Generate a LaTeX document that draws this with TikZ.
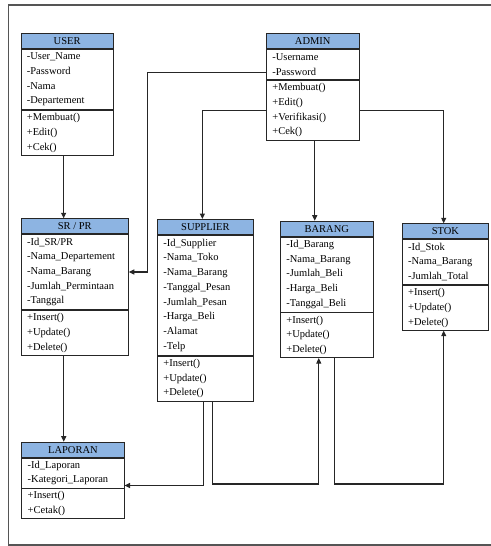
\documentclass[tikz,border=0pt]{standalone}
\usepackage{fontspec}
\setmainfont{Liberation Serif}
\usetikzlibrary{positioning,arrows.meta}
\definecolor{headblue}{RGB}{141,180,226}
\definecolor{frameline}{RGB}{85,85,85}

\begin{document}
\begin{tikzpicture}[x=1pt,y=-1pt,
    font=\fontsize{10.5}{14.7}\selectfont,
    classhead/.style={draw=black!85, line width=0.8pt, fill=headblue, minimum width=#1, minimum height=15pt, inner sep=0pt, anchor=north west},
    classpart/.style={draw=black!85, line width=0.8pt, fill=white, align=left, text width=#1, inner xsep=6pt, inner ysep=0pt},
    rows/.style={minimum height=#1*15pt},
    conn/.style={line width=1.1pt, draw=black!85, -{Triangle[length=5.5pt,width=5pt]}}]
        \useasboundingbox (0,0) rectangle (490,546);
        % Bingkai luar
        \draw[frameline, line width=1.2pt] (8.5,5) rectangle (495,545);

        % Kelas USER dan ADMIN
        \node[classhead=92.5pt] (user) at (20.5,33.3) {USER};
        \node[classpart=80.5pt, rows=4, below=0pt of user] (user-a) {-User\_Name\\-Password\\-Nama\\-Departement};
        \node[classpart=80.5pt, rows=3, below=0pt of user-a] (user-m) {+Membuat()\\+Edit()\\+Cek()};

        \node[classhead=92.7pt] (admin) at (266,33.3) {ADMIN};
        \node[classpart=80.7pt, rows=2, below=0pt of admin] (admin-a) {-Username\\-Password};
        \node[classpart=80.7pt, rows=4, below=0pt of admin-a] (admin-m) {+Membuat()\\+Edit()\\+Verifikasi()\\+Cek()};

        % Kelas SR / PR, SUPPLIER, BARANG, STOK
        \node[classhead=107.3pt] (srpr) at (20.7,218.3) {SR / PR};
        \node[classpart=95.3pt, rows=5, below=0pt of srpr] (srpr-a) {-Id\_SR/PR\\-Nama\_Departement\\-Nama\_Barang\\-Jumlah\_Permintaan\\-Tanggal};
        \node[classpart=95.3pt, rows=3, below=0pt of srpr-a] (srpr-m) {+Insert()\\+Update()\\+Delete()};

        \node[classhead=96pt] (supplier) at (157,219) {SUPPLIER};
        \node[classpart=84pt, rows=8, below=0pt of supplier] (supplier-a) {-Id\_Supplier\\-Nama\_Toko\\-Nama\_Barang\\-Tanggal\_Pesan\\-Jumlah\_Pesan\\-Harga\_Beli\\-Alamat\\-Telp};
        \node[classpart=84pt, rows=3, below=0pt of supplier-a] (supplier-m) {+Insert()\\+Update()\\+Delete()};

        \node[classhead=92.7pt] (barang) at (280,220.7) {BARANG};
        \node[classpart=80.7pt, rows=5, below=0pt of barang] (barang-a) {-Id\_Barang\\-Nama\_Barang\\-Jumlah\_Beli\\-Harga\_Beli\\-Tanggal\_Beli};
        \node[classpart=80.7pt, rows=3, below=0pt of barang-a] (barang-m) {+Insert()\\+Update()\\+Delete()};

        \node[classhead=86.6pt] (stok) at (401.7,223.3) {STOK};
        \node[classpart=74.6pt, rows=3, below=0pt of stok] (stok-a) {-Id\_Stok\\-Nama\_Barang\\-Jumlah\_Total};
        \node[classpart=74.6pt, rows=3, below=0pt of stok-a] (stok-m) {+Insert()\\+Update()\\+Delete()};

        % Kelas LAPORAN
        \node[classhead=102.4pt] (laporan) at (21.3,441.7) {LAPORAN};
        \node[classpart=90.4pt, rows=2, below=0pt of laporan] (laporan-a) {-Id\_Laporan\\-Kategori\_Laporan};
        \node[classpart=90.4pt, rows=2, below=0pt of laporan-a] (laporan-m) {+Insert()\\+Cetak()};

        % Garis hubungan
        \coordinate (base) at (0,484);
        \draw[conn] ([xshift=-3.5pt]user-m.south) -- ([xshift=-3.5pt]user-m.south |- srpr.north);
        \draw[conn] ([yshift=-8pt]admin-a.west) -| ([xshift=19pt]srpr-a.east) -- (srpr-a.east);
        \draw[conn] (admin-m.west) -| ([xshift=-3pt]supplier.north);
        \draw[conn] ([xshift=2pt]admin-m.south) -- ([xshift=2pt]admin-m.south |- barang.north);
        \draw[conn] (admin-m.east) -| ([xshift=-1.7pt]stok.north);
        \draw[conn] ([xshift=-11pt]srpr-m.south) -- ([xshift=-11pt]srpr-m.south |- laporan.north);
        \draw[conn] ([xshift=-2.3pt]supplier-m.south) |- ([yshift=-12.6pt]laporan-a.east);
        \draw[conn] ([xshift=7.3pt]supplier-m.south) |- ([xshift=-8pt]barang-m.south |- base) -- ([xshift=-8pt]barang-m.south);
        \draw[conn] ([xshift=7.3pt]barang-m.south) |- ([xshift=-1.7pt]stok-m.south |- base) -- ([xshift=-1.7pt]stok-m.south);
      \end{tikzpicture}
\end{document}
